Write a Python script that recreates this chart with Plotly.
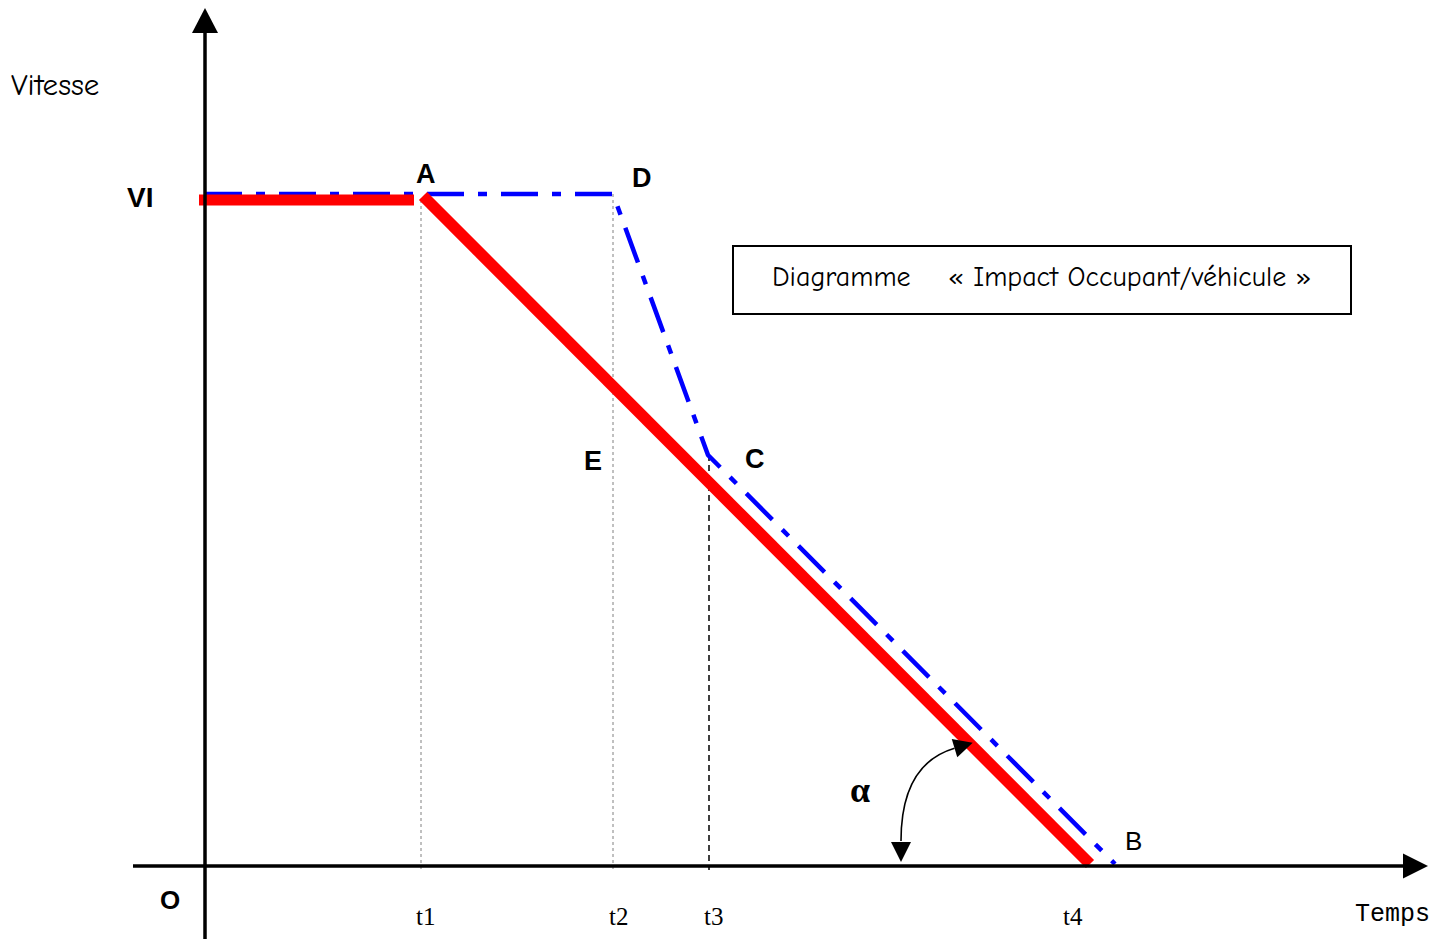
import math
import plotly.graph_objects as go

# ---------------- data (time / speed, arbitrary units) ----------------
time_labels = ["t1", "t2", "t3", "t4"]
event_times = [216, 408, 504, 885]
VI = 672

# vehicle speed (red, thick): constant then linear deceleration A -> t4
red_flat_t = [-6, 209]
red_flat_v = [666, 666]
red_ramp_t = [218, 885]
red_ramp_v = [670, 2]

# occupant speed (blue, dash-dot): VI -> D -> C -> B
blue_t = [0, 408, 503, 910]
blue_v = [VI, VI, 411, 2]

# vertical guides at t1, t2 (dotted) and t3 (dashed)
guide_top_v = [666, VI, 411]

point_labels = ["A", "D", "E", "C", "B"]
point_bold = [True, True, True, True, False]
point_t = [221, 437, 388, 550, 928]
point_v = [692, 688, 405, 407, 25]

# ---------------- layout helpers ----------------
X0, X1 = -205, 1242
Y0, Y1 = -73, 866

fig = go.Figure()

# guide lines
guide_styles = [dict(color="#808080", width=1, dash="dot"),
                dict(color="#808080", width=1, dash="dot"),
                dict(color="black", width=1.5, dash="6px,4px")]
for t, vtop, st in zip(event_times[:3], guide_top_v, guide_styles):
    fig.add_trace(go.Scatter(x=[t, t], y=[vtop, -4], mode="lines",
                             line=st, hoverinfo="skip", showlegend=False))

# blue occupant curve
fig.add_trace(go.Scatter(x=blue_t, y=blue_v, mode="lines",
                         line=dict(color="#0000ff", width=4.5, dash="37px,14px,9px,14px"),
                         hoverinfo="skip", showlegend=False))
# red vehicle curve
fig.add_trace(go.Scatter(x=red_flat_t, y=red_flat_v, mode="lines",
                         line=dict(color="#ff0000", width=11),
                         hoverinfo="skip", showlegend=False))
fig.add_trace(go.Scatter(x=red_ramp_t, y=red_ramp_v, mode="lines",
                         line=dict(color="#ff0000", width=11.5),
                         hoverinfo="skip", showlegend=False))

shapes = []
# axes
x_axis_start, x_axis_tip = -72, 1223
y_axis_bottom, y_axis_tip = -73, 858
shapes.append(dict(type="line", x0=x_axis_start, x1=x_axis_tip - 20, y0=0, y1=0,
                   line=dict(color="black", width=3.5)))
shapes.append(dict(type="line", x0=0, x1=0, y0=y_axis_bottom, y1=y_axis_tip - 20,
                   line=dict(color="black", width=3.5)))


def tri(tip, direction, length, width):
    dx, dy = direction
    n = math.hypot(dx, dy)
    dx, dy = dx / n, dy / n
    bx, by = tip[0] - dx * length, tip[1] - dy * length
    px, py = -dy * width / 2, dx * width / 2
    return (f"M {tip[0]},{tip[1]} L {bx + px},{by + py} "
            f"L {bx - px},{by - py} Z"), (bx, by)


p, _ = tri((x_axis_tip, 0), (1, 0), 25, 25)
shapes.append(dict(type="path", path=p, fillcolor="black", line=dict(width=0)))
p, _ = tri((0, y_axis_tip), (0, 1), 25, 26)
shapes.append(dict(type="path", path=p, fillcolor="black", line=dict(width=0)))

# alpha arc with arrowheads
p_bot, base_bot = tri((696, 4), (0, -1), 20, 20)
p_top, base_top = tri((767.7, 123.3), (18.5, 5.6), 19, 19)
shapes.append(dict(type="path",
                   path=f"M {base_bot[0]},{base_bot[1] + 1} Q 696,102 {base_top[0]},{base_top[1]}",
                   line=dict(color="black", width=1.6)))
shapes.append(dict(type="path", path=p_bot, fillcolor="black", line=dict(width=0)))
shapes.append(dict(type="path", path=p_top, fillcolor="black", line=dict(width=0)))

# title box
shapes.append(dict(type="rect", x0=528, x1=1146, y0=552, y1=620,
                   line=dict(color="black", width=2), fillcolor="rgba(0,0,0,0)"))

comic = "Comic Sans MS, Comic Neue, Noto Sans, sans-serif"
arial = "Liberation Sans, Arial, sans-serif"
times = "Liberation Serif, Times New Roman, serif"
mono = "Courier New, Liberation Mono, monospace"

ann = []


def txt(x, y, s, size, family, bold=False, xanchor="center"):
    ann.append(dict(x=x, y=y, text=f"<b>{s}</b>" if bold else s, showarrow=False,
                    xanchor=xanchor, yanchor="middle",
                    font=dict(size=size, family=family, color="black")))


txt(-150, 781, "Vitesse", 31, comic)
txt(-65, 669, "VI", 28, arial, bold=True)
txt(-35, -34, "O", 26, arial, bold=True)
for lab, b, t, v in zip(point_labels, point_bold, point_t, point_v):
    txt(t, v, lab, 27 if b else 26, arial, bold=b)
label_shift = [4, 5, 4, -17]
for lab, t, s in zip(time_labels, event_times, label_shift):
    txt(t + s, -50, lab, 25, times)
txt(1187, -48, "Temps", 25, mono)
txt(655, 76, "α", 36, times, bold=True)
txt(836, 589, "Diagramme\u00a0\u00a0\u00a0\u00a0« Impact Occupant/véhicule »", 28, comic)

fig.update_layout(
    width=1447, height=939,
    margin=dict(l=0, r=0, t=0, b=0),
    paper_bgcolor="white", plot_bgcolor="white",
    xaxis=dict(range=[X0, X1], visible=False, fixedrange=True),
    yaxis=dict(range=[Y0, Y1], visible=False, fixedrange=True),
    shapes=shapes, annotations=ann,
)

fig.write_html("out.html", config={"displayModeBar": False},
               post_script="document.body.style.margin='0';")
